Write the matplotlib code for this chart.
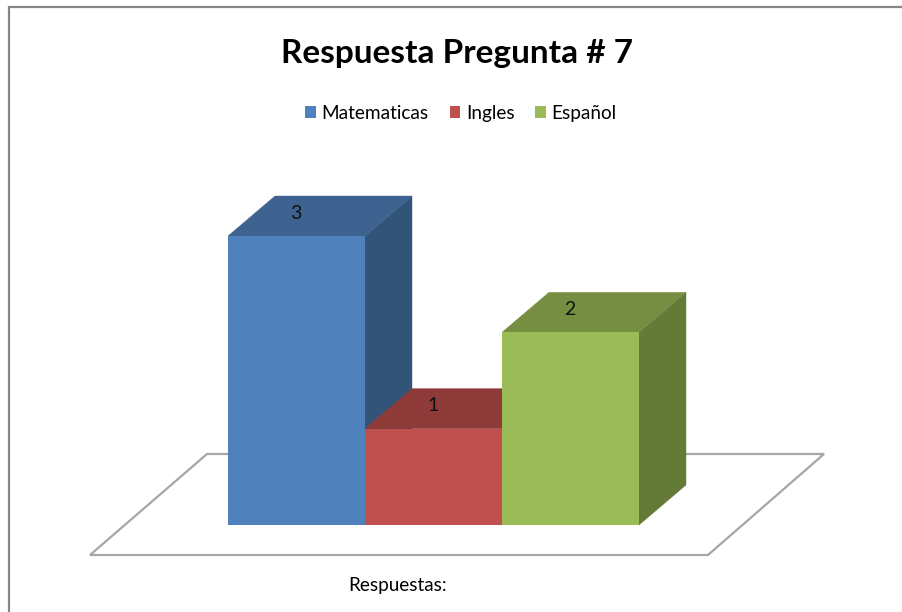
import matplotlib
matplotlib.use("Agg")
import matplotlib.pyplot as plt
from matplotlib.patches import Polygon, Patch

title = "Respuesta Pregunta # 7"
categories = ["Matematicas", "Ingles", "Español"]
values = [3, 1, 2]
axis_label = "Respuestas:"
front_colors = ["#4F81BD", "#C0504D", "#9BBB59"]
top_colors = ["#3E6390", "#8E3A38", "#768E42"]
side_colors = ["#335479", "#7A3230", "#647A37"]

W, H = 902, 612
BAR_W = 137.0     # px per category
UNIT = 96.33      # px per value unit
X0, Y0 = 296.5, 525.0   # px of category 0 centre, baseline
DX, DY = 47 / BAR_W, 40 / UNIT  # 3D depth in data units

plt.rcParams["font.family"] = ["Lato", "DejaVu Sans"]
fig = plt.figure(figsize=(W / 100, H / 100), dpi=100, facecolor="white")
ax = fig.add_axes([0, 0, 1, 1])
ax.set_xlim(-X0 / BAR_W, (W - X0) / BAR_W)
ax.set_ylim(-(H - Y0) / UNIT, Y0 / UNIT)
ax.axis("off")


def px(x, y):
    return ((x - X0) / BAR_W, (Y0 - y) / UNIT)


# outer chart frame
ax.plot(*zip(px(9, H), px(9, 7), px(W, 7)), color="#868686", lw=1.6, zorder=1,
        solid_joinstyle="miter", clip_on=False)

# floor
ax.add_patch(Polygon([px(90, 555), px(207, 454), px(824, 454), px(708, 555)],
                     closed=True, fc="white", ec="#A6A6A6", lw=1.6, zorder=1))

# 3D bars
xs = list(range(len(values)))
for i, (x, v) in enumerate(zip(xs, values)):
    l, r = x - 0.5, x + 0.5
    z = 2 + i
    ax.add_patch(Polygon([(r, 0), (r + DX, DY), (r + DX, v + DY), (r, v)],
                         closed=True, fc=side_colors[i], ec=side_colors[i], lw=0.3, zorder=z))
    ax.add_patch(Polygon([(l, v), (l + DX, v + DY), (r + DX, v + DY), (r, v)],
                         closed=True, fc=top_colors[i], ec=top_colors[i], lw=0.3, zorder=z))
    ax.bar(x, v, width=1.0, color=front_colors[i], zorder=z + 0.5)
    ax.text(x - 0.005, v + DY / 2 + 0.03, str(v), ha="center", va="center",
            fontsize=14, color="#111111", zorder=10)

# text
ax.text(*px(457, 54), title, ha="center", va="center", fontsize=24,
        fontweight="bold", color="black")
ax.text(*px(398, 585), axis_label, ha="center", va="center", fontsize=13.6,
        color="black")

handles = [Patch(fc=c, ec="none", label=n) for c, n in zip(front_colors, categories)]
leg = ax.legend(handles=handles, ncol=3, frameon=False, fontsize=13.7,
                loc="center", bbox_to_anchor=(461 / W, 1 - 113.5 / H),
                bbox_transform=fig.transFigure,
                handlelength=0.55, handleheight=0.62, handletextpad=0.3,
                columnspacing=1.1, borderpad=0)

fig.savefig("out.png", dpi=100)
